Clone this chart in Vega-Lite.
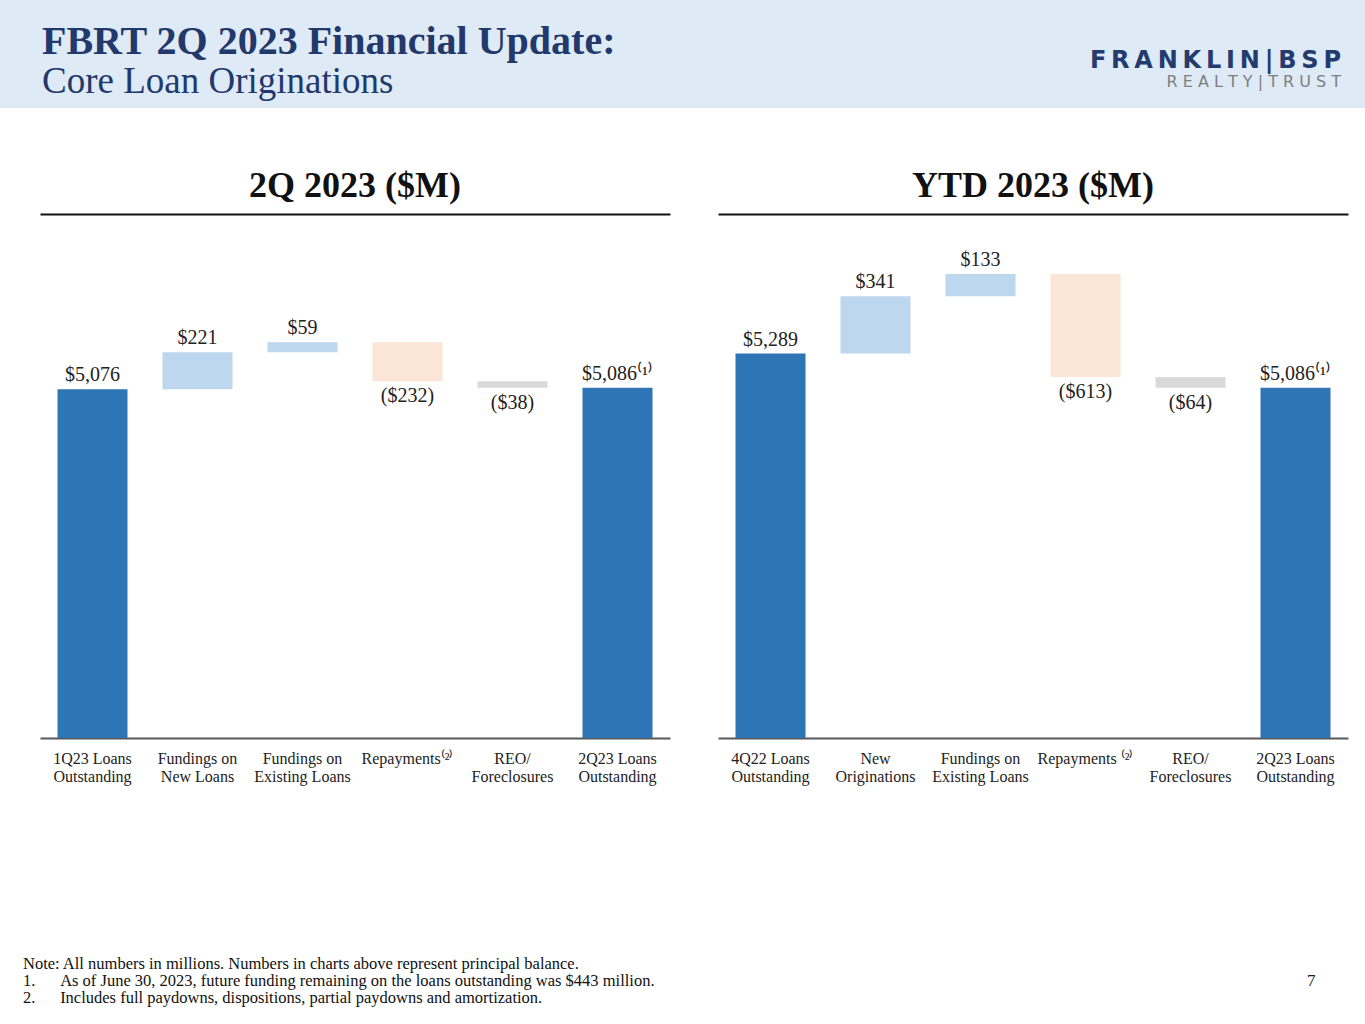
{
  "$schema": "https://vega.github.io/schema/vega-lite/v6.json",
  "padding": 0,
  "background": "white",
  "config": {"view": {"stroke": null}, "font": "Liberation Serif"},
  "datasets": {
    "q2": [
      {"cat": "1Q23 Loans|Outstanding", "start": 0, "end": 5076, "kind": "total", "label": "$5,076", "side": "up"},
      {"cat": "Fundings on|New Loans", "start": 5076, "end": 5297, "kind": "inc", "label": "$221", "side": "up"},
      {"cat": "Fundings on|Existing Loans", "start": 5297, "end": 5356, "kind": "inc", "label": "$59", "side": "up"},
      {"cat": "Repayments⁽²⁾", "start": 5356, "end": 5124, "kind": "dec", "label": "($232)", "side": "down"},
      {"cat": "REO/|Foreclosures", "start": 5124, "end": 5086, "kind": "reo", "label": "($38)", "side": "down"},
      {"cat": "2Q23 Loans|Outstanding", "start": 0, "end": 5086, "kind": "total", "label": "$5,086⁽¹⁾", "side": "up"}
    ],
    "ytd": [
      {"cat": "4Q22 Loans|Outstanding", "start": 0, "end": 5289, "kind": "total", "label": "$5,289", "side": "up"},
      {"cat": "New|Originations", "start": 5289, "end": 5630, "kind": "inc", "label": "$341", "side": "up"},
      {"cat": "Fundings on|Existing Loans", "start": 5630, "end": 5763, "kind": "inc", "label": "$133", "side": "up"},
      {"cat": "Repayments ⁽²⁾", "start": 5763, "end": 5150, "kind": "dec", "label": "($613)", "side": "down"},
      {"cat": "REO/|Foreclosures", "start": 5150, "end": 5086, "kind": "reo", "label": "($64)", "side": "down"},
      {"cat": "2Q23 Loans|Outstanding", "start": 0, "end": 5086, "kind": "total", "label": "$5,086⁽¹⁾", "side": "up"}
    ]
  },
  "vconcat": [
    {
      "hconcat": [
        {
          "width": 1000, "height": 108,
          "view": {"fill": "#DEEAF6", "stroke": null},
          "data": {"values": [{}]},
          "mark": {"type": "text"},
          "encoding": {},
          "title": {
            "text": "FBRT 2Q 2023 Financial Update:",
            "subtitle": "Core Loan Originations",
            "anchor": "start", "frame": "group", "orient": "top",
            "offset": -100, "dx": 42,
            "font": "Liberation Serif", "fontSize": 40, "fontWeight": "bold", "color": "#23386B",
            "subtitleFont": "Liberation Serif", "subtitleFontSize": 37, "subtitleColor": "#23386B", "subtitlePadding": 2
          }
        },
        {
          "width": 365, "height": 108,
          "view": {"fill": "#DEEAF6", "stroke": null},
          "data": {"values": [{}]},
          "mark": {"type": "text"},
          "encoding": {},
          "title": {
            "text": "F\u2009R\u2009A\u2009N\u2009K\u2009L\u2009I\u2009N\u2009|\u2009B\u2009S\u2009P",
            "subtitle": "R E A L T Y   |  T R U S T",
            "anchor": "end", "frame": "group", "orient": "top",
            "offset": -90, "dx": -24,
            "font": "DejaVu Sans", "fontSize": 24, "fontWeight": "bold", "color": "#243B6E",
            "subtitleFont": "DejaVu Sans", "subtitleFontSize": 16, "subtitleColor": "#7F7F7F", "subtitlePadding": 1
          }
        }
      ],
      "spacing": 0
    },
    {
      "vconcat": [
        {
          "hconcat": [
            {
              "width": 1, "height": 1,
              "data": {"values": [{}]},
              "mark": {"type": "text"},
              "encoding": {}
            },
            {
              "hconcat": [
                {
                  "width": 630, "height": 524,
                  "data": {"name": "q2"},
                  "title": {"text": "2Q 2023 ($M)", "frame": "group", "anchor": "middle", "offset": 9, "font": "Liberation Serif", "fontSize": 36, "fontWeight": "bold", "color": "#111111"},
                  "resolve": {"axis": {"x": "independent"}},
                  "layer": [
                    {
                      "mark": {"type": "bar"},
                      "encoding": {
                        "x": {"field": "cat", "type": "nominal", "sort": null, "scale": {"paddingInner": 0.3333, "paddingOuter": 0.1667},
                          "axis": {"orient": "bottom", "title": null, "ticks": false, "labelAngle": 0, "labelExpr": "split(datum.label, '|')", "labelFont": "Liberation Serif", "labelFontSize": 16, "labelColor": "#222222", "labelPadding": 12, "labelLineHeight": 18, "labelOverlap": false, "labelBound": false, "labelBaseline": "top", "domainColor": "#595959", "domainWidth": 2}},
                        "y": {"field": "start", "type": "quantitative", "scale": {"domain": [3000, 6120], "clamp": true, "nice": false, "zero": false}, "axis": null},
                        "y2": {"field": "end"},
                        "color": {"field": "kind", "type": "nominal", "scale": {"domain": ["total", "inc", "dec", "reo"], "range": ["#2E75B6", "#BDD7EE", "#FBE5D6", "#D9D9D9"]}, "legend": null}
                      }
                    },
                    {
                      "transform": [{"filter": "datum.side == 'up'"}],
                      "mark": {"type": "text", "baseline": "bottom", "dy": -4, "font": "Liberation Serif", "fontSize": 20, "color": "#222222"},
                      "encoding": {
                        "x": {"field": "cat", "type": "nominal", "sort": null, "axis": {"orient": "top", "title": null, "labels": false, "ticks": false, "domainColor": "#111111", "domainWidth": 2}},
                        "y": {"field": "end", "type": "quantitative"},
                        "text": {"field": "label"}
                      }
                    },
                    {
                      "transform": [{"filter": "datum.side == 'down'"}],
                      "mark": {"type": "text", "baseline": "top", "dy": 5, "font": "Liberation Serif", "fontSize": 20, "color": "#222222"},
                      "encoding": {
                        "x": {"field": "cat", "type": "nominal", "sort": null, "axis": null},
                        "y": {"field": "end", "type": "quantitative"},
                        "text": {"field": "label"}
                      }
                    }
                  ]
                },
                {
                  "width": 630, "height": 524,
                  "data": {"name": "ytd"},
                  "title": {"text": "YTD 2023 ($M)", "frame": "group", "anchor": "middle", "offset": 9, "font": "Liberation Serif", "fontSize": 36, "fontWeight": "bold", "color": "#111111"},
                  "resolve": {"axis": {"x": "independent"}},
                  "layer": [
                    {
                      "mark": {"type": "bar"},
                      "encoding": {
                        "x": {"field": "cat", "type": "nominal", "sort": null, "scale": {"paddingInner": 0.3333, "paddingOuter": 0.1667},
                          "axis": {"orient": "bottom", "title": null, "ticks": false, "labelAngle": 0, "labelExpr": "split(datum.label, '|')", "labelFont": "Liberation Serif", "labelFontSize": 16, "labelColor": "#222222", "labelPadding": 12, "labelLineHeight": 18, "labelOverlap": false, "labelBound": false, "labelBaseline": "top", "domainColor": "#595959", "domainWidth": 2}},
                        "y": {"field": "start", "type": "quantitative", "scale": {"domain": [3000, 6120], "clamp": true, "nice": false, "zero": false}, "axis": null},
                        "y2": {"field": "end"},
                        "color": {"field": "kind", "type": "nominal", "scale": {"domain": ["total", "inc", "dec", "reo"], "range": ["#2E75B6", "#BDD7EE", "#FBE5D6", "#D9D9D9"]}, "legend": null}
                      }
                    },
                    {
                      "transform": [{"filter": "datum.side == 'up'"}],
                      "mark": {"type": "text", "baseline": "bottom", "dy": -4, "font": "Liberation Serif", "fontSize": 20, "color": "#222222"},
                      "encoding": {
                        "x": {"field": "cat", "type": "nominal", "sort": null, "axis": {"orient": "top", "title": null, "labels": false, "ticks": false, "domainColor": "#111111", "domainWidth": 2}},
                        "y": {"field": "end", "type": "quantitative"},
                        "text": {"field": "label"}
                      }
                    },
                    {
                      "transform": [{"filter": "datum.side == 'down'"}],
                      "mark": {"type": "text", "baseline": "top", "dy": 5, "font": "Liberation Serif", "fontSize": 20, "color": "#222222"},
                      "encoding": {
                        "x": {"field": "cat", "type": "nominal", "sort": null, "axis": null},
                        "y": {"field": "end", "type": "quantitative"},
                        "text": {"field": "label"}
                      }
                    }
                  ]
                }
              ],
              "spacing": 48
            }
          ],
          "spacing": 39
        },
        {
          "hconcat": [
            {
              "width": 1250, "height": 1,
              "data": {"values": [{}]},
              "mark": {"type": "text"},
              "encoding": {},
              "title": {
                "text": ["Note: All numbers in millions.  Numbers in charts above represent principal balance.", "1.\u2003\u2002As of June 30, 2023, future funding remaining on the loans outstanding was $443 million.", "2.\u2003\u2002Includes full paydowns, dispositions, partial paydowns and amortization."],
                "anchor": "start", "frame": "group", "dx": 23, "offset": 4,
                "font": "Liberation Serif", "fontSize": 16.5, "fontWeight": "normal", "lineHeight": 17, "color": "#111111"
              }
            },
            {
              "width": 115, "height": 1,
              "data": {"values": [{}]},
              "mark": {"type": "text"},
              "encoding": {},
              "title": {
                "text": "7",
                "anchor": "start", "frame": "group", "dx": 57, "offset": 21,
                "font": "Liberation Serif", "fontSize": 17, "fontWeight": "normal", "color": "#222222"
              }
            }
          ],
          "spacing": 0
        }
      ],
      "spacing": 172
    }
  ],
  "spacing": 60
}
